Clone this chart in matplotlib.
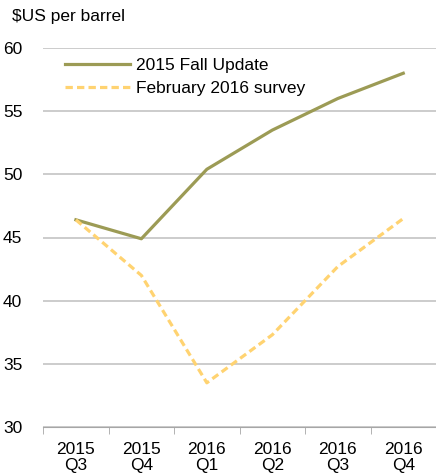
import numpy as np
import matplotlib.pyplot as plt

plt.rcParams['font.family'] = ['Liberation Sans', 'DejaVu Sans']

quarters = ["2015\nQ3", "2015\nQ4", "2016\nQ1", "2016\nQ2", "2016\nQ3", "2016\nQ4"]
fall_update = [46.4, 44.9, 50.4, 53.5, 56.0, 58.0]
feb_survey = [46.4, 42.0, 33.5, 37.3, 42.7, 46.5]

x = np.arange(len(quarters))
fs = 12.5

fig = plt.figure(figsize=(4.36, 4.75), dpi=100)
ax = fig.add_axes([0.099, 0.101, 0.901, 0.798])

ax.plot(x, fall_update, color='#9c9b55', lw=2.3, label='2015 Fall Update')
ax.plot(x, feb_survey, color='#ffd371', lw=2.3, ls=(0, (2.3, 1.3)),
        label='February 2016 survey')

ax.set_xlim(-0.5, len(quarters) - 0.5)
ax.set_ylim(30, 60)
ax.set_yticks(range(30, 61, 5))
ax.yaxis.grid(True, color='#bfbfbf', lw=1.1)
ax.set_axisbelow(True)

ax.set_xticks(x)
ax.set_xticklabels(quarters, fontsize=fs, linespacing=1.12)
ax.set_xticks(np.arange(-0.5, len(quarters)), minor=True)
ax.tick_params(axis='x', which='major', length=0, pad=10.5)
ax.tick_params(axis='x', which='minor', length=5, color='#a6a6a6', direction='out')
ax.tick_params(axis='y', length=0, pad=15, labelsize=fs)

for s in ['top', 'right', 'left']:
    ax.spines[s].set_visible(False)
ax.spines['bottom'].set_color('#a6a6a6')

leg = ax.legend(loc='upper left', bbox_to_anchor=(0.017, 1.015), frameon=False,
                fontsize=fs, handlelength=3.7, handletextpad=0.35, labelspacing=0.45)

fig.text(0.027, 0.965, '$US per barrel', fontsize=fs, va='center', ha='left')

fig.savefig('out.png', dpi=100)
